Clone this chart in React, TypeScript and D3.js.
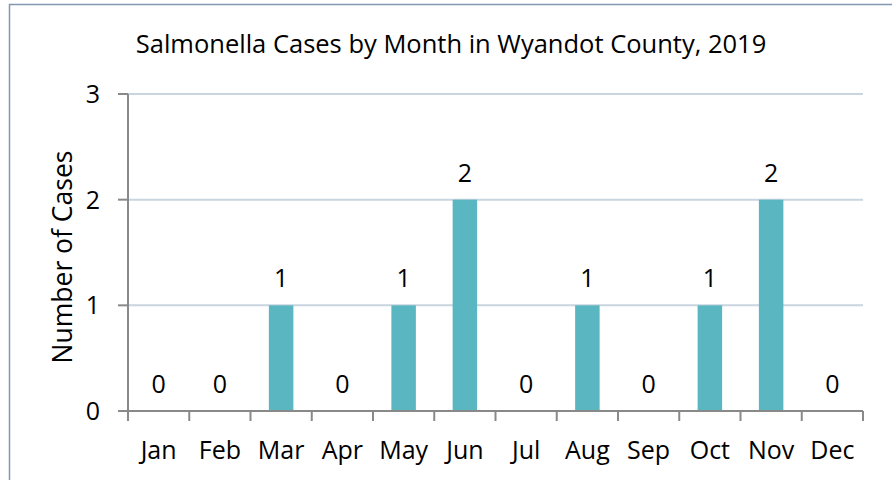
import React from "react";
import * as d3 from "d3";

const months = ["Jan", "Feb", "Mar", "Apr", "May", "Jun", "Jul", "Aug", "Sep", "Oct", "Nov", "Dec"];
const cases = [0, 0, 1, 0, 1, 2, 0, 1, 0, 1, 2, 0];
const yTicks = [0, 1, 2, 3];
const title = "Salmonella Cases by Month in Wyandot County, 2019";
const yTitle = "Number of Cases";

const W = 892;
const H = 480;
const FONT = "'Open Sans', 'Noto Sans', sans-serif";

export default function App() {
  const left = 128, right = 863, top = 94, bottom = 411;
  const x = d3.scaleBand<string>().domain(months).range([left, right]).paddingInner(0.6).paddingOuter(0.3);
  const band = d3.scaleBand<string>().domain(months).range([left, right]);
  const y = d3.scaleLinear().domain([0, 3]).range([bottom, top]);
  const axisColor = "#898989";
  return (
    <svg width={W} height={H} style={{ position: "absolute", left: 0, top: 0 }} fontFamily={FONT}>
      <rect x={0} y={0} width={W} height={H} fill="#fff" />
      <rect x={9.5} y={4.5} width={W + 10} height={H + 10} fill="none" stroke="#8497b0" strokeWidth={1.5} />
      <text x={451} y={53} textAnchor="middle" fontSize={25.5} fill="#000">{title}</text>
      {yTicks.filter(t => t > 0).map(t => (
        <line key={"g" + t} x1={left} x2={right} y1={y(t)} y2={y(t)} stroke="#c9d5df" strokeWidth={2} />
      ))}
      {months.map((m, i) => (
        <rect key={m} x={x(m)} y={y(cases[i])} width={x.bandwidth()} height={y(0) - y(cases[i])} fill="#5ab7c1" />
      ))}
      <line x1={left} x2={left} y1={top} y2={bottom} stroke={axisColor} strokeWidth={2} />
      <line x1={left - 10} x2={right} y1={bottom} y2={bottom} stroke={axisColor} strokeWidth={2} />
      {yTicks.map(t => (
        <g key={"y" + t}>
          <line x1={left - 10} x2={left} y1={y(t)} y2={y(t)} stroke={axisColor} strokeWidth={2} />
          <text x={100} y={y(t) + 9} textAnchor="end" fontSize={25} fill="#000">{t}</text>
        </g>
      ))}
      {[...months.map(m => band(m) as number), right].map((v, i) => (
        <line key={"xt" + i} x1={v} x2={v} y1={bottom} y2={bottom + 10} stroke={axisColor} strokeWidth={2} />
      ))}
      {months.map(m => (
        <text key={"xl" + m} x={(band(m) as number) + band.bandwidth() / 2} y={459} textAnchor="middle" fontSize={25} fill="#000">{m}</text>
      ))}
      {months.map((m, i) => (
        <text key={"dl" + m} x={(band(m) as number) + band.bandwidth() / 2} y={y(cases[i]) - 18} textAnchor="middle" fontSize={25} fill="#000">{cases[i]}</text>
      ))}
      <text transform={`translate(72,257) rotate(-90)`} textAnchor="middle" fontSize={26.5} fill="#000">{yTitle}</text>
    </svg>
  );
}
